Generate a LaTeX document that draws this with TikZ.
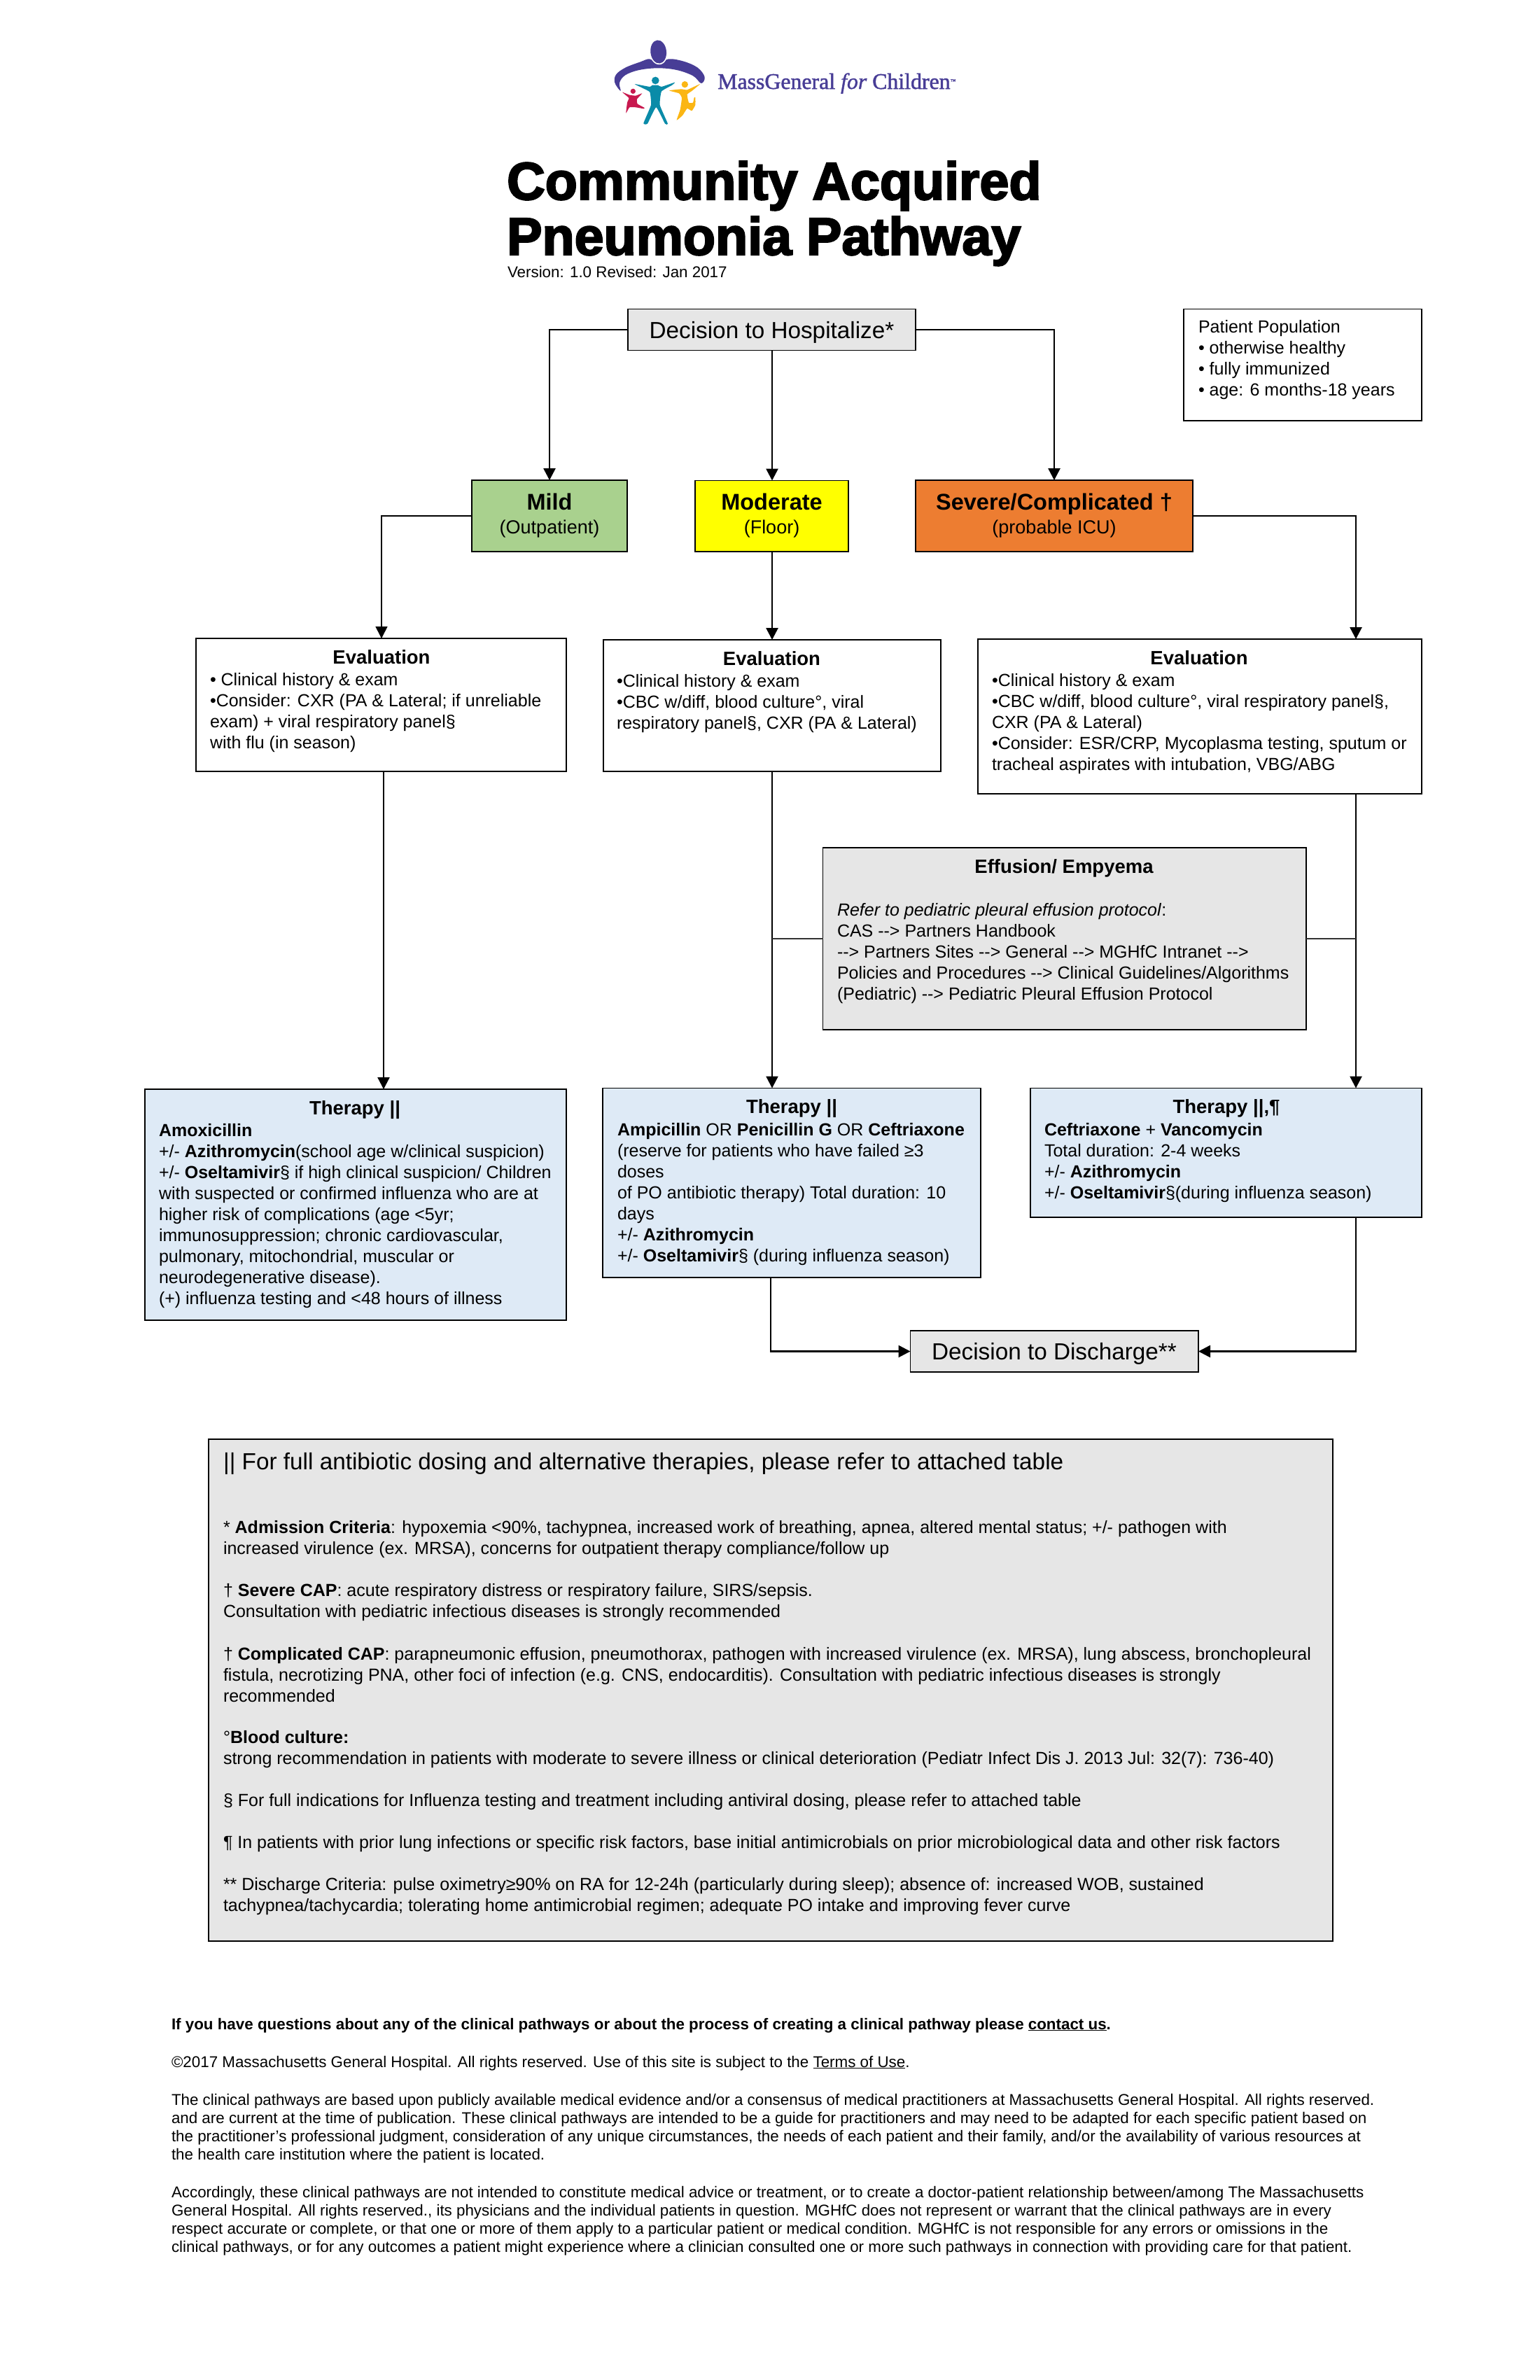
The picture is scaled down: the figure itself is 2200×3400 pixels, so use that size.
\documentclass[tikz,border=0pt]{standalone}
\usepackage{fontspec}
\setmainfont{Liberation Sans}
\newfontfamily\titlefont[BoldFeatures={FakeBold=3}]{Liberation Sans}
\newfontfamily\logofont[FakeBold=1.6,ItalicFeatures={FakeBold=1.2}]{Liberation Serif}
\usetikzlibrary{arrows.meta,calc}
\definecolor{mildc}{HTML}{A9D18E}
\definecolor{modc}{HTML}{FFFF00}
\definecolor{sevc}{HTML}{ED7D31}
\definecolor{therc}{HTML}{DEEAF6}
\definecolor{greyc}{HTML}{E6E6E6}
\definecolor{logop}{HTML}{483D96}
\definecolor{logot}{HTML}{0A8BA8}
\definecolor{logor}{HTML}{C8194F}
\definecolor{logoy}{HTML}{FBB613}
\newcommand\fs[2]{\fontsize{#1pt}{#2pt}\selectfont}
\newcommand\lns[1]{\begin{tabular}[t]{@{}l@{}}#1\end{tabular}}
\newcommand\boxat[6]{%
  \pgfmathsetmacro\bxw{#4-#2}\pgfmathsetmacro\bxh{#5-#3}%
  \pgfmathsetmacro\bxx{(#4+#2)/2}\pgfmathsetmacro\bxy{(#5+#3)/2}%
  \node[bx,minimum width=\bxw pt,minimum height=\bxh pt,#6] (#1) at (\bxx,\bxy) {};}
\tikzset{
  bx/.style={draw=black,line width=1.3pt,inner sep=0pt,outer sep=0pt,rectangle},
  txt/.style={inner sep=0pt,outer sep=0pt,anchor=base west,font=\fs{25}{30.1}},
  head/.style={inner sep=0pt,outer sep=0pt,anchor=base,font=\fs{27.5}{30}\bfseries},
  big/.style={inner sep=0pt,outer sep=0pt,anchor=base,font=\fs{33.3}{36}},
  cardh/.style={inner sep=0pt,outer sep=0pt,anchor=base,font=\fs{32.5}{36}\bfseries},
  cards/.style={inner sep=0pt,outer sep=0pt,anchor=base,font=\fs{27}{36}},
  foot/.style={inner sep=0pt,outer sep=0pt,anchor=base west,font=\fs{22.36}{26}},
  arr/.style={draw=black,line width=2.7pt,-{Triangle[length=17pt,width=17pt]}},
  arrthin/.style={draw=black,line width=1.6pt,-{Triangle[length=17pt,width=17pt]}},
  link/.style={draw=black!80,line width=1.2pt},
}
\begin{document}
\begin{tikzpicture}[x=1pt,y=-1pt]
\useasboundingbox (0,0) rectangle (2200,3400);
% logo
\begin{scope}[shift={(860,50)},x=0.3333pt,y=-0.3333pt]
\fill[logop] plot[smooth cycle,tension=0.6] coordinates {(80,240)(55,205)(60,170)(100,140)(165,115)(205,103)(240,125)(285,103)(350,113)(410,140)(440,180)(425,207)(390,175)(320,150)(240,142)(160,150)(100,172)(75,205)};
\fill[white,rotate around={6:(242,72)}] (242,72) ellipse [x radius=39,y radius=55];
\fill[logop,rotate around={6:(242,72)}] (242,72) ellipse [x radius=34,y radius=50];
\fill[logot] (229,195) circle [radius=16];
\fill[logot] plot[smooth cycle,tension=0.25] coordinates {(140,210)(205,222)(215,215)(240,215)(255,222)(312,203)(300,215)(255,242)(248,300)(282,380)(270,380)(232,310)(195,380)(178,378)(210,300)(205,245)(175,228)};
\fill[logor] (133,241) circle [radius=11];
\fill[logor] plot[smooth cycle,tension=0.25] coordinates {(87,245)(118,257)(145,260)(172,250)(150,275)(152,295)(182,312)(178,316)(145,310)(118,310)(103,335)(108,290)(115,270)};
\fill[logoy] (355,212) circle [radius=14];
\fill[logoy] plot[smooth cycle,tension=0.25] coordinates {(288,238)(340,232)(365,235)(420,210)(385,240)(365,255)(372,290)(390,290)(395,268)(400,268)(400,300)(385,325)(365,315)(345,345)(320,365)(335,320)(342,270)(330,250)};
\end{scope}
\node[inner sep=0pt,anchor=base west,text=logop] (logotext) at (1025,127) {\resizebox{340pt}{!}{\logofont\fs{33}{35}MassGeneral \itshape for \upshape Children\raisebox{9pt}{\fs{8}{9}™}}};
% title
\node[inner sep=0pt,anchor=base west,font=\titlefont\bfseries\fs{75.5}{79}] (title1) at (724,285) {Community Acquired};
\node[inner sep=0pt,anchor=base west,font=\titlefont\bfseries\fs{75.5}{79}] (title2) at (724,364) {Pneumonia Pathway};
\node[foot] (version) at (725,396) {Version: 1.0 Revised: Jan 2017};
% decision + population
\boxat{dec}{897}{441.5}{1308}{500.5}{fill=greyc}
\node[big] (dect) at (1102.5,483) {Decision to Hospitalize*};
\boxat{pop}{1691}{441.5}{2031}{601}{fill=white}
\node[txt] (popt) at (1712,475) {\lns{Patient Population\\• otherwise healthy\\• fully immunized\\• age: 6 months-18 years}};
% severity
\boxat{mild}{674}{686}{896}{788}{fill=mildc}
\node[cardh] (mildt) at (785,728) {Mild};
\node[cards] (milds) at (785,762) {(Outpatient)};
\boxat{mod}{993}{686.5}{1212}{788}{fill=modc}
\node[cardh] (modt) at (1102.5,728) {Moderate};
\node[cards] (mods) at (1102.5,762) {(Floor)};
\boxat{sev}{1308}{686}{1704}{788}{fill=sevc}
\node[cardh] (sevt) at (1506,728) {Severe/Complicated †};
\node[cards] (sevs) at (1506,762) {(probable ICU)};
% evaluation
\boxat{evm}{280}{912}{809}{1102}{fill=white}
\node[head] (evmh) at (545,948) {Evaluation};
\node[txt] (evmt) at (300,979) {\lns{• Clinical history \& exam\\•Consider: CXR (PA \& Lateral; if unreliable\\exam) + viral respiratory panel§\\with flu (in season)}};
\boxat{evo}{862}{914}{1344}{1102}{fill=white}
\node[head] (evoh) at (1102.5,950) {Evaluation};
\node[txt] (evot) at (881,981) {\lns{•Clinical history \& exam\\•CBC w/diff, blood culture°, viral\\respiratory panel§, CXR (PA \& Lateral)}};
\boxat{evs}{1397}{913}{2031}{1134}{fill=white}
\node[head] (evsh) at (1713,949) {Evaluation};
\node[txt] (evst) at (1417,980) {\lns{•Clinical history \& exam\\•CBC w/diff, blood culture°, viral respiratory panel§,\\CXR (PA \& Lateral)\\•Consider: ESR/CRP, Mycoplasma testing, sputum or\\tracheal aspirates with intubation, VBG/ABG}};
% effusion
\boxat{eff}{1175.5}{1211}{1866}{1471}{fill=greyc}
\node[head] (effh) at (1520,1247) {Effusion/ Empyema};
\node[txt] (efft) at (1196,1308) {\lns{\textit{Refer to pediatric pleural effusion protocol}:\\CAS -{}-> Partners Handbook\\-{}-> Partners Sites -{}-> General -{}-> MGHfC Intranet -{}->\\Policies and Procedures -{}-> Clinical Guidelines/Algorithms\\(Pediatric) -{}-> Pediatric Pleural Effusion Protocol}};
% therapy
\boxat{thm}{207}{1556}{809}{1886}{fill=therc}
\node[head] (thmh) at (507,1592) {Therapy ||};
\node[txt] (thmt) at (227,1623) {\lns{\textbf{Amoxicillin}\\+/- \textbf{Azithromycin}(school age w/clinical suspicion)\\+/- \textbf{Oseltamivir}§ if high clinical suspicion/ Children\\with suspected or confirmed influenza who are at\\higher risk of complications (age <5yr;\\immunosuppression; chronic cardiovascular,\\pulmonary, mitochondrial, muscular or\\neurodegenerative disease).\\(+) influenza testing and <48 hours of illness}};
\boxat{tho}{861}{1554.5}{1401}{1825}{fill=therc}
\node[head] (thoh) at (1131,1590) {Therapy ||};
\node[txt] (thot) at (882,1622) {\lns{\textbf{Ampicillin} OR \textbf{Penicillin G} OR \textbf{Ceftriaxone}\\(reserve for patients who have failed ≥3\\doses\\of PO antibiotic therapy) Total duration: 10\\days\\+/- \textbf{Azithromycin}\\+/- \textbf{Oseltamivir}§ (during influenza season)}};
\boxat{ths}{1472}{1554.5}{2031}{1739}{fill=therc}
\node[head] (thsh) at (1752,1590) {Therapy ||,¶};
\node[txt] (thst) at (1492,1622) {\lns{\textbf{Ceftriaxone} + \textbf{Vancomycin}\\Total duration: 2-4 weeks\\+/- \textbf{Azithromycin}\\+/- \textbf{Oseltamivir}§(during influenza season)}};
% discharge
\boxat{dis}{1300.5}{1901}{1712}{1960}{fill=greyc}
\node[big] (dist) at (1506,1942) {Decision to Discharge**};
% connectors
\coordinate (xm) at (548,0);
\coordinate (xs) at (1937,0);
\coordinate (xo) at (1103,0);
\coordinate (xp) at (1101,0);
\coordinate (xe) at (545,0);
\coordinate (ye) at (0,1341);
\draw[arr] (dec.west) -| (mild.north);
\draw[arr] (dec.south -| xo) -- (xo |- mod.north);
\draw[arr] (dec.east) -| (sev.north);
\draw[arrthin] (mild.west) -| (xe |- evm.north);
\draw[arr] (xo |- mod.south) -- (xo |- evo.north);
\draw[arr] (sev.east) -| (xs |- evs.north);
\draw[arr,line width=2.2pt] (xm |- evm.south) -- (xm |- thm.north);
\draw[arr,line width=2.4pt] (xo |- evo.south) -- (xo |- tho.north);
\draw[arr] (xs |- evs.south) -- (xs |- ths.north);
\draw[link] (eff.west |- ye) -- (xo |- ye);
\draw[link] (eff.east |- ye) -- (xs |- ye);
\draw[arr] (xp |- tho.south) |- (dis.west);
\draw[arr] (xs |- ths.south) |- (dis.east);
% notes
\boxat{notes}{298}{2056}{1904}{2773}{fill=greyc}
\node[inner sep=0pt,anchor=base west,font=\fs{33.3}{36}] (n0) at (319,2099) {|| For full antibiotic dosing and alternative therapies, please refer to attached table};
\node[txt] (n1) at (319,2190) {\lns{* \textbf{Admission Criteria}: hypoxemia <90\%, tachypnea, increased work of breathing, apnea, altered mental status; +/- pathogen with\\increased virulence (ex. MRSA), concerns for outpatient therapy compliance/follow up}};
\node[txt] (n2) at (319,2280) {\lns{† \textbf{Severe CAP}: acute respiratory distress or respiratory failure, SIRS/sepsis.\\Consultation with pediatric infectious diseases is strongly recommended}};
\node[txt] (n3) at (319,2371) {\lns{† \textbf{Complicated CAP}: parapneumonic effusion, pneumothorax, pathogen with increased virulence (ex. MRSA), lung abscess, bronchopleural\\fistula, necrotizing PNA, other foci of infection (e.g. CNS, endocarditis). Consultation with pediatric infectious diseases is strongly\\recommended}};
\node[txt] (n4) at (319,2490) {\lns{°\textbf{Blood culture:}\\strong recommendation in patients with moderate to severe illness or clinical deterioration (Pediatr Infect Dis J. 2013 Jul: 32(7): 736-40)}};
\node[txt] (n5) at (319,2580) {§ For full indications for Influenza testing and treatment including antiviral dosing, please refer to attached table};
\node[txt] (n6) at (319,2640) {¶ In patients with prior lung infections or specific risk factors, base initial antimicrobials on prior microbiological data and other risk factors};
\node[txt] (n7) at (319,2700) {\lns{** Discharge Criteria: pulse oximetry≥90\% on RA for 12-24h (particularly during sleep); absence of: increased WOB, sustained\\tachypnea/tachycardia; tolerating home antimicrobial regimen; adequate PO intake and improving fever curve}};
% footer
\node[foot] (f1) at (245,2899) {\textbf{If you have questions about any of the clinical pathways or about the process of creating a clinical pathway please \underline{contact us}.}};
\node[foot] (f2) at (245,2953) {©2017 Massachusetts General Hospital. All rights reserved. Use of this site is subject to the \underline{Terms of Use}.};
\node[foot] (f3) at (245,3007) {\lns{The clinical pathways are based upon publicly available medical evidence and/or a consensus of medical practitioners at Massachusetts General Hospital. All rights reserved.\\and are current at the time of publication. These clinical pathways are intended to be a guide for practitioners and may need to be adapted for each specific patient based on\\the practitioner's professional judgment, consideration of any unique circumstances, the needs of each patient and their family, and/or the availability of various resources at\\the health care institution where the patient is located.}};
\node[foot] (f4) at (245,3139) {\lns{Accordingly, these clinical pathways are not intended to constitute medical advice or treatment, or to create a doctor-patient relationship between/among The Massachusetts\\General Hospital. All rights reserved., its physicians and the individual patients in question. MGHfC does not represent or warrant that the clinical pathways are in every\\respect accurate or complete, or that one or more of them apply to a particular patient or medical condition. MGHfC is not responsible for any errors or omissions in the\\clinical pathways, or for any outcomes a patient might experience where a clinician consulted one or more such pathways in connection with providing care for that patient.}};
\end{tikzpicture}
\end{document}
